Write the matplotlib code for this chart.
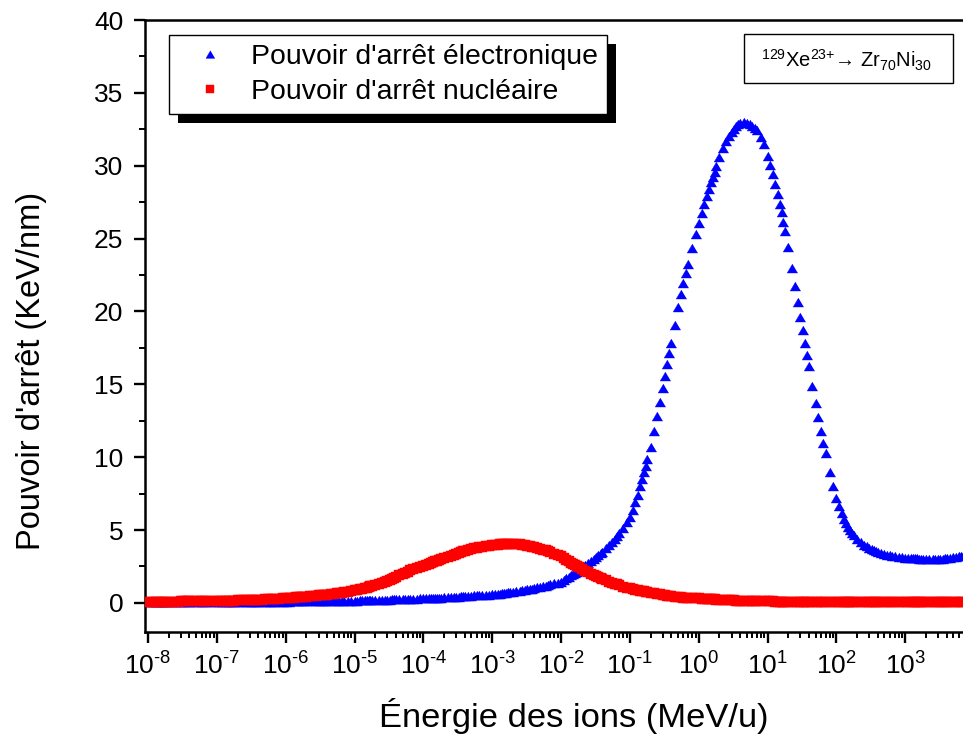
import matplotlib
matplotlib.use("Agg")
import matplotlib.pyplot as plt
from matplotlib.patches import Rectangle
from matplotlib.transforms import IdentityTransform
from matplotlib.ticker import LogLocator, MultipleLocator, FixedLocator, FixedFormatter, NullFormatter

plt.rcParams['font.family'] = ['Liberation Sans', 'DejaVu Sans']
plt.rcParams['mathtext.fontset'] = 'custom'
plt.rcParams['mathtext.rm'] = 'Liberation Sans'
plt.rcParams['mathtext.it'] = 'Liberation Sans:italic'
plt.rcParams['mathtext.bf'] = 'Liberation Sans:bold'

# ---------------- data ----------------
# SRIM-like energy table (MeV/u): mantissas per decade
mantissas = [1.0, 1.1, 1.2, 1.3, 1.4, 1.5, 1.6, 1.7, 1.8, 2.0, 2.25, 2.5, 2.75,
             3.0, 3.25, 3.5, 3.75, 4.0, 4.5, 5.0, 5.5, 6.0, 6.5, 7.0, 8.0, 9.0]
decades = [-8, -7, -6, -5, -4, -3, -2, -1, 0, 1, 2, 3]
energy = [m * 10.0 ** d for d in decades for m in mantissas if m * 10.0 ** d <= 7.0e3]

# electronic stopping power (keV/nm)
s_elec = [
    0.03, 0.03, 0.03, 0.03, 0.03, 0.03, 0.03, 0.03, 0.04, 0.04, 0.04, 0.04, 0.04,
    0.04, 0.04, 0.04, 0.04, 0.04, 0.04, 0.04, 0.04, 0.05, 0.05, 0.05, 0.05, 0.05,
    0.05, 0.05, 0.05, 0.06, 0.06, 0.06, 0.06, 0.06, 0.06, 0.06, 0.06, 0.07, 0.07,
    0.07, 0.07, 0.07, 0.07, 0.07, 0.08, 0.08, 0.08, 0.08, 0.08, 0.08, 0.09, 0.09,
    0.09, 0.09, 0.10, 0.10, 0.10, 0.10, 0.10, 0.11, 0.11, 0.11, 0.11, 0.12, 0.12,
    0.12, 0.13, 0.13, 0.13, 0.13, 0.14, 0.14, 0.14, 0.14, 0.15, 0.15, 0.15, 0.16,
    0.16, 0.16, 0.17, 0.17, 0.18, 0.18, 0.19, 0.19, 0.19, 0.20, 0.21, 0.21, 0.22,
    0.23, 0.23, 0.24, 0.24, 0.25, 0.26, 0.26, 0.27, 0.27, 0.28, 0.28, 0.29, 0.30,
    0.30, 0.31, 0.32, 0.32, 0.33, 0.34, 0.34, 0.35, 0.36, 0.37, 0.38, 0.40, 0.41,
    0.42, 0.43, 0.44, 0.45, 0.46, 0.48, 0.50, 0.51, 0.52, 0.54, 0.55, 0.56, 0.57,
    0.58, 0.60, 0.62, 0.64, 0.66, 0.68, 0.70, 0.72, 0.73, 0.76, 0.80, 0.84, 0.87,
    0.90, 0.93, 0.95, 0.98, 1.01, 1.06, 1.10, 1.14, 1.18, 1.22, 1.26, 1.33, 1.39,
    1.45, 1.57, 1.69, 1.79, 1.89, 1.98, 2.06, 2.15, 2.24, 2.40, 2.58, 2.74, 2.89,
    3.02, 3.15, 3.28, 3.40, 3.51, 3.76, 4.00, 4.20, 4.39, 4.58, 4.77, 5.12, 5.52,
    5.9, 6.4, 6.9, 7.4, 8.0, 8.5, 9.0, 9.4, 9.9, 10.7, 11.8, 12.85, 13.8,
    14.75, 15.6, 16.4, 17.15, 17.85, 19.1, 20.3, 21.2, 21.95, 22.65, 23.25, 24.35, 25.3,
    26.1, 26.75, 27.35, 27.9, 28.4, 28.85, 29.25, 29.6, 29.95, 30.6, 31.2, 31.7, 32.05,
    32.3, 32.55, 32.75, 32.85, 32.95, 33.0, 32.95, 32.85, 32.75, 32.6, 32.45, 32.0, 31.5,
    30.7, 30.05, 29.4, 28.75, 28.05, 27.4, 26.8, 26.15, 25.5, 24.4, 23.0, 21.75, 20.65,
    19.6, 18.7, 17.8, 17.0, 16.25, 14.9, 13.7, 12.75, 11.8, 11.0, 10.3, 9.0, 8.0,
    7.2, 6.65, 6.15, 5.75, 5.45, 5.2, 5.0, 4.8, 4.65, 4.4, 4.2, 4.0, 3.88,
    3.78, 3.68, 3.6, 3.53, 3.48, 3.42, 3.35, 3.31, 3.27, 3.24, 3.2, 3.15, 3.12,
    3.10, 3.09, 3.08, 3.07, 3.06, 3.05, 3.04, 3.03, 3.02, 3.01, 3.00, 3.00, 3.00,
    3.01, 3.02, 3.03, 3.05, 3.07, 3.10, 3.13, 3.16, 3.19, 3.22, 3.24,
]

# nuclear stopping power (keV/nm)
s_nucl = [
    0.07, 0.07, 0.07, 0.08, 0.08, 0.08, 0.08, 0.08, 0.08, 0.09, 0.09, 0.09, 0.09,
    0.10, 0.10, 0.10, 0.10, 0.10, 0.11, 0.11, 0.11, 0.11, 0.12, 0.12, 0.12, 0.13,
    0.13, 0.13, 0.14, 0.14, 0.15, 0.15, 0.15, 0.16, 0.16, 0.17, 0.18, 0.19, 0.19,
    0.20, 0.21, 0.21, 0.22, 0.22, 0.23, 0.24, 0.25, 0.26, 0.27, 0.28, 0.29, 0.31,
    0.32, 0.33, 0.34, 0.36, 0.37, 0.38, 0.39, 0.40, 0.41, 0.43, 0.45, 0.47, 0.49,
    0.51, 0.53, 0.54, 0.56, 0.57, 0.61, 0.64, 0.66, 0.68, 0.71, 0.73, 0.77, 0.81,
    0.85, 0.89, 0.93, 0.97, 1.01, 1.05, 1.09, 1.13, 1.16, 1.23, 1.31, 1.39, 1.46,
    1.53, 1.60, 1.66, 1.72, 1.78, 1.88, 1.98, 2.07, 2.15, 2.23, 2.30, 2.36, 2.45,
    2.50, 2.58, 2.65, 2.72, 2.78, 2.84, 2.89, 2.94, 2.99, 3.07, 3.16, 3.24, 3.31,
    3.37, 3.43, 3.48, 3.53, 3.57, 3.64, 3.70, 3.75, 3.79, 3.83, 3.86, 3.90, 3.93,
    3.96, 3.98, 4.00, 4.01, 4.02, 4.03, 4.04, 4.05, 4.05, 4.05, 4.03, 4.02, 4.00,
    3.97, 3.93, 3.90, 3.86, 3.82, 3.75, 3.71, 3.66, 3.60, 3.54, 3.48, 3.38, 3.29,
    3.20, 3.07, 2.96, 2.85, 2.75, 2.66, 2.58, 2.50, 2.43, 2.32, 2.20, 2.09, 2.00,
    1.91, 1.84, 1.77, 1.71, 1.65, 1.55, 1.46, 1.38, 1.32, 1.26, 1.21, 1.12, 1.05,
    1.00, 0.95, 0.91, 0.87, 0.84, 0.81, 0.78, 0.75, 0.73, 0.69, 0.65, 0.61, 0.58,
    0.55, 0.52, 0.50, 0.48, 0.46, 0.43, 0.40, 0.38, 0.36, 0.35, 0.33, 0.32, 0.31,
    0.30, 0.29, 0.28, 0.27, 0.26, 0.25, 0.24, 0.24, 0.23, 0.22, 0.21, 0.20, 0.19,
    0.18, 0.17, 0.16, 0.16, 0.15, 0.14, 0.13, 0.13, 0.12, 0.12, 0.11, 0.11, 0.10,
    0.10, 0.10, 0.10, 0.09, 0.09, 0.09, 0.09, 0.09, 0.08, 0.08, 0.08, 0.08, 0.07,
    0.07, 0.07, 0.07, 0.07, 0.07, 0.06, 0.06, 0.06, 0.06, 0.06, 0.06, 0.05, 0.05,
    0.05, 0.05, 0.05, 0.05, 0.05, 0.05, 0.05, 0.04, 0.04, 0.04, 0.04, 0.04, 0.04,
    0.04, 0.04, 0.04, 0.04, 0.04, 0.04, 0.03, 0.03, 0.03, 0.03, 0.03, 0.03, 0.03,
    0.03, 0.03, 0.03, 0.03, 0.03, 0.03, 0.03, 0.03, 0.03, 0.03, 0.03, 0.03, 0.03,
    0.03, 0.03, 0.03, 0.03, 0.03, 0.03, 0.03, 0.03, 0.03, 0.03, 0.03,
]

label_elec = "Pouvoir d'arrêt électronique"
label_nucl = "Pouvoir d'arrêt nucléaire"
xlabel = "Énergie des ions (MeV/u)"
ylabel = "Pouvoir d'arrêt (KeV/nm)"
annot = r"$^{129}$Xe$^{23{+}}$→ Zr$_{70}$Ni$_{30}$"
x_exponents = [-8, -7, -6, -5, -4, -3, -2, -1, 0, 1, 2, 3]

# ---------------- figure ----------------
W, H = 963, 738
fig = plt.figure(figsize=(W / 100, H / 100), dpi=100)
ax_l, ax_r, ax_t, ax_b = 145, 963, 20, 632
ax = fig.add_axes([ax_l / W, 1 - ax_b / H, (ax_r - ax_l) / W, (ax_b - ax_t) / H])


def axfrac(px, py):
    return (px - ax_l) / (ax_r - ax_l), (ax_b - py) / (ax_b - ax_t)


tri = [(0, 0.85), (-1, -0.85), (1, -0.85)]
ax.plot(energy, s_elec, linestyle='none', marker=tri, markersize=7.6,
        color='#0000ff', markeredgewidth=0.3, label=label_elec, zorder=3)
ax.plot(energy, s_nucl, linestyle='none', marker='s', markersize=6.6,
        color='#ff0000', markeredgewidth=0.3, label=label_nucl, zorder=3.1)

ax.set_xscale('log')
ax.set_xlim(10 ** -8.044, 10 ** 3.84)
ax.set_ylim(-2.0, 40.0)

ax.yaxis.set_major_locator(MultipleLocator(5))
ax.yaxis.set_minor_locator(MultipleLocator(2.5))
ax.xaxis.set_major_locator(FixedLocator([10.0 ** e for e in x_exponents]))
ax.xaxis.set_major_formatter(FixedFormatter(
    [r'$\mathdefault{10^{\text{-}%d}}$' % (-e) if e < 0 else r'$\mathdefault{10^{%d}}$' % e
     for e in x_exponents]))
ax.xaxis.set_minor_locator(LogLocator(base=10, subs=[2, 3, 4, 5, 6, 7, 8, 9], numticks=100))
ax.xaxis.set_minor_formatter(NullFormatter())

ax.tick_params(which='major', direction='out', length=8, width=1.7, labelsize=19,
               color='black', top=False, right=False)
ax.tick_params(axis='x', which='major', pad=7)
ax.tick_params(axis='y', which='major', pad=7.5)
ax.tick_params(which='minor', direction='out', length=4.5, width=1.4,
               top=False, right=False)
for side in ['left', 'bottom', 'top']:
    ax.spines[side].set_linewidth(1.8)
ax.spines['right'].set_visible(False)

ax.set_xlabel(xlabel, fontsize=24.8)
ax.set_ylabel(ylabel, fontsize=23.5)
ax.xaxis.set_label_coords(0.524, -0.108)
ax.yaxis.set_label_coords(-0.12, 0.4265)

leg = ax.legend(loc='upper left', bbox_to_anchor=axfrac(169, 35),
                borderaxespad=0, fontsize=20.4, fancybox=False, framealpha=1,
                edgecolor='black', numpoints=1, handlelength=2.28, handletextpad=0.33,
                borderpad=0.3, labelspacing=0.34, markerscale=0.85)
leg.get_frame().set_linewidth(1.0)
leg.set_zorder(5)

# annotation box
bx0, by0 = axfrac(744, 83)
bx1, by1 = axfrac(953, 34)
ax.add_patch(Rectangle((bx0, by0), bx1 - bx0, by1 - by0, transform=ax.transAxes,
                       facecolor='white', edgecolor='black', linewidth=1.0, zorder=6))
tx, ty = axfrac(846, 60)
ax.text(tx, ty, annot, transform=ax.transAxes, ha='center', va='center',
        fontsize=14.5, zorder=7)

fig.canvas.draw()
bb = leg.get_window_extent()
shadow = Rectangle((bb.x0 + 9, bb.y0 - 9), bb.width, bb.height, transform=IdentityTransform(),
                   facecolor='black', edgecolor='none', zorder=4.9, clip_on=False)
ax.add_artist(shadow)

fig.savefig('out.png', dpi=100)
